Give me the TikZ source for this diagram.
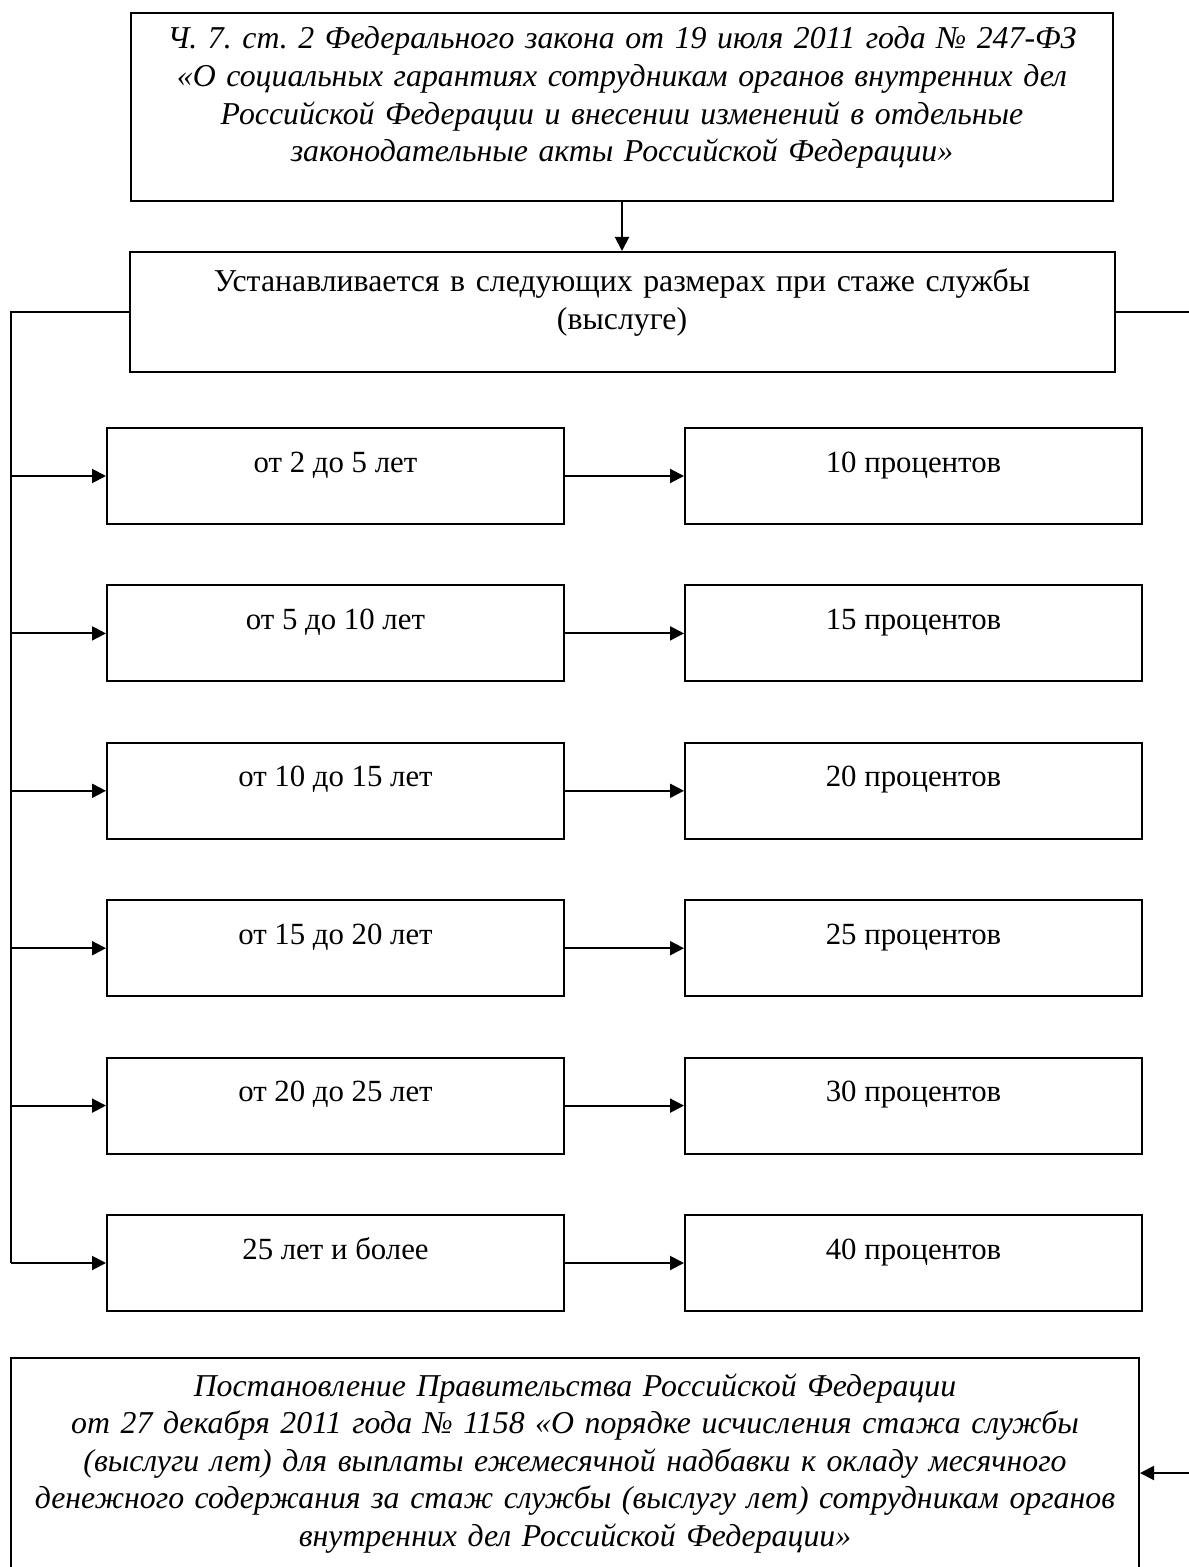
\documentclass[tikz,border=0pt]{standalone}
\usepackage{fontspec}
\setmainfont{Liberation Serif}
\usetikzlibrary{arrows.meta,positioning}
\frenchspacing

\begin{document}
\begin{tikzpicture}[
    x=0.5pt, y=-0.5pt,
    box/.style={rectangle, draw, line width=1pt, inner sep=0pt, align=center,
        font=\fontsize{15.9pt}{18.8pt}\selectfont},
    cell/.style={box, minimum width=228.5pt, text height=22pt, text depth=26pt,
        font=\fontsize{15.4pt}{18.8pt}\selectfont},
    law/.style={box, font=\fontsize{15.9pt}{18.8pt}\selectfont\itshape},
    arrow/.style={-{Triangle[length=7pt,width=7pt]}, line width=1pt},
    link/.style={line width=1pt},
    node distance=29.7pt and 59.5pt
]
\useasboundingbox (0,0) rectangle (1188,1567);

\node[law, anchor=north, text width=491pt, text height=18pt, text depth=76pt] (fz) at (622,12)
    {Ч. 7. ст. 2 Федерального закона от 19 июля 2011 года № 247-ФЗ\\
     «О социальных гарантиях сотрудникам органов внутренних дел\\
     Российской Федерации и внесении изменений в отдельные\\
     законодательные акты Российской Федерации»};
\node[box, below=24.5pt of fz, text width=492.5pt, text height=20pt, text depth=40pt] (ust)
    {Устанавливается в следующих размерах при стаже службы\\ (выслуге)};

% stazh
\node[cell] (l1) at (335.5,476) {от 2 до 5 лет};
\node[cell, below=of l1] (l2) {от 5 до 10 лет};
\node[cell, below=of l2] (l3) {от 10 до 15 лет};
\node[cell, below=of l3] (l4) {от 15 до 20 лет};
\node[cell, below=of l4] (l5) {от 20 до 25 лет};
\node[cell, below=of l5] (l6) {25 лет и более};

% razmer
\node[cell, right=of l1] (r1) {10 процентов};
\node[cell, right=of l2] (r2) {15 процентов};
\node[cell, right=of l3] (r3) {20 процентов};
\node[cell, right=of l4] (r4) {25 процентов};
\node[cell, right=of l5] (r5) {30 процентов};
\node[cell, right=of l6] (r6) {40 процентов};

\node[law, anchor=north, text width=564pt, text height=19pt, text depth=96pt] (post) at (575,1357)
    {Постановление Правительства Российской Федерации\\
     от 27 декабря 2011 года № 1158 «О порядке исчисления стажа службы\\
     (выслуги лет) для выплаты ежемесячной надбавки к окладу месячного\\
     денежного содержания за стаж службы (выслугу лет) сотрудникам органов\\
     внутренних дел Российской Федерации»};

\coordinate (trunk) at (11,0);
\coordinate (rbus) at (1194,0);

\draw[arrow] (fz.south) -- (fz.south |- ust.north);
\draw[link] (ust.west) -| (trunk |- l6.west);

\draw[arrow] (trunk |- l1.west) -- (l1.west);
\draw[arrow] (trunk |- l2.west) -- (l2.west);
\draw[arrow] (trunk |- l3.west) -- (l3.west);
\draw[arrow] (trunk |- l4.west) -- (l4.west);
\draw[arrow] (trunk |- l5.west) -- (l5.west);
\draw[arrow] (trunk |- l6.west) -- (l6.west);

\draw[arrow] (l1) -- (r1);
\draw[arrow] (l2) -- (r2);
\draw[arrow] (l3) -- (r3);
\draw[arrow] (l4) -- (r4);
\draw[arrow] (l5) -- (r5);
\draw[arrow] (l6) -- (r6);

\draw[arrow] (ust.east) -- (ust.east -| rbus) |- (post.east);
\end{tikzpicture}
\end{document}
